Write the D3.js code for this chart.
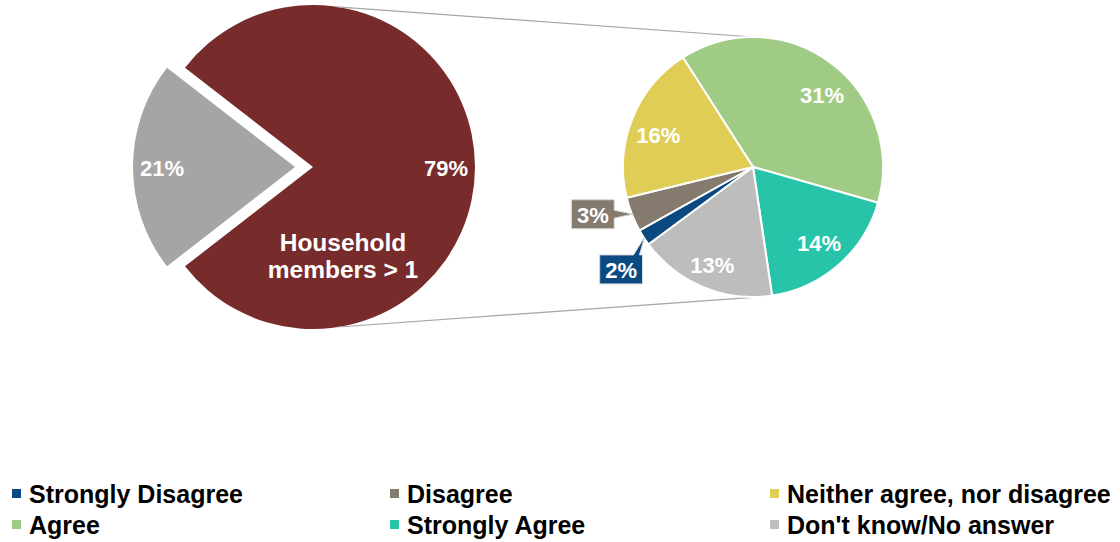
<!DOCTYPE html>
<html><head><meta charset="utf-8">
<script src="https://cdn.jsdelivr.net/npm/d3@7"></script>
<style>body{margin:0;background:#fff}svg{display:block;font-family:"Liberation Sans",Arial,sans-serif;font-weight:bold}</style>
</head><body><svg width="1120" height="542"></svg>
<script>
// ---- data ----
const mainCategories = ["Household members = 1", "Household members > 1"];
const mainValues = [21, 79];
const mainLabels = ["21%", "79%"];
const subCategories = ["Agree", "Strongly Agree", "Don't know/No answer", "Strongly Disagree", "Disagree", "Neither agree, nor disagree"];
const subValues = [30.4, 14.4, 13.6, 1.6, 3.4, 15.6];
const subLabels = ["31%", "14%", "13%", "2%", "3%", "16%"];
const legendOrder = ["Strongly Disagree", "Disagree", "Neither agree, nor disagree", "Agree", "Strongly Agree", "Don't know/No answer"];

const colors = {
  "Household members = 1": "#A5A5A5",
  "Household members > 1": "#772B2B",
  "Strongly Disagree": "#0B4A80",
  "Disagree": "#857A6E",
  "Neither agree, nor disagree": "#E0CD56",
  "Agree": "#A0CB84",
  "Strongly Agree": "#27C4A9",
  "Don't know/No answer": "#BDBDBD"
};

const svg = d3.select("svg");
const deg = Math.PI / 180;
const polar = (cx, cy, r, a) => [cx + r * Math.sin(a), cy - r * Math.cos(a)];

// ---- main pie ----
const L = {cx: 313, cy: 167, r: 162};
const mainSum = d3.sum(mainValues);
const mStart = 1.5 * Math.PI - (mainValues[0] / mainSum) * Math.PI;
const mainArcGen = d3.arc().innerRadius(0).outerRadius(L.r);
const mainPieData = d3.pie().sort(null).value(d => d.v).startAngle(mStart).endAngle(mStart + 2 * Math.PI)(mainValues.map((v, i) => ({v, i})));
const explode = 18;

const gL = svg.append("g").attr("transform", `translate(${L.cx},${L.cy})`);
mainPieData.forEach(d => {
  const mid = (d.startAngle + d.endAngle) / 2;
  const off = d.data.i === 0 ? explode : 0;
  const [ox, oy] = [off * Math.sin(mid), -off * Math.cos(mid)];
  const g = gL.append("g").attr("transform", `translate(${ox},${oy})`);
  g.append("path").attr("d", mainArcGen(d)).attr("fill", colors[mainCategories[d.data.i]]);
  const [lx, ly] = polar(0, 0, 133, mid);
  g.append("text").attr("x", lx).attr("y", ly).attr("dy", "0.42em").attr("text-anchor", "middle")
    .attr("fill", "#fff").style("font-size", "22px").text(mainLabels[d.data.i]);
  if (d.data.i === 1) {
    const t = g.append("text").attr("text-anchor", "middle").attr("fill", "#fff").style("font-size", "24.5px");
    t.append("tspan").attr("x", 30).attr("y", 84).text("Household");
    t.append("tspan").attr("x", 30).attr("y", 111).text("members > 1");
  }
});

// ---- secondary pie ----
const R = {cx: 753, cy: 167, r: 130};
const sStart = -32.6 * deg;
const subPieData = d3.pie().sort(null).value(d => d.v).startAngle(sStart).endAngle(sStart + 2 * Math.PI)(subValues.map((v, i) => ({v, i})));
const subArcGen = d3.arc().innerRadius(0).outerRadius(R.r);

// connector lines
const conn = [[polar(L.cx, L.cy, L.r, 8.5 * deg), polar(R.cx, R.cy, R.r, 0)],
              [polar(L.cx, L.cy, L.r, 171 * deg), polar(R.cx, R.cy, R.r, 175.6 * deg)]];
conn.forEach(([a, b]) => svg.append("line").attr("x1", a[0]).attr("y1", a[1]).attr("x2", b[0]).attr("y2", b[1])
  .attr("stroke", "#A6A6A6").attr("stroke-width", 1.2));

const gR = svg.append("g").attr("transform", `translate(${R.cx},${R.cy})`);
gR.selectAll("path").data(subPieData).join("path")
  .attr("d", subArcGen).attr("fill", d => colors[subCategories[d.data.i]])
  .attr("stroke", "#fff").attr("stroke-width", 2).attr("stroke-linejoin", "round");

const labelNudge = {0: 7, 5: -3};
const labelRadius = {2: 106};
const callouts = {3: -5, 4: 5};
subPieData.forEach(d => {
  const i = d.data.i;
  const mid = (d.startAngle + d.endAngle) / 2;
  if (callouts[i] === undefined) {
    const [lx, ly] = polar(0, 0, labelRadius[i] || 100, mid + (labelNudge[i] || 0) * deg);
    gR.append("text").attr("x", lx).attr("y", ly).attr("dy", "0.38em").attr("text-anchor", "middle")
      .attr("fill", "#fff").style("font-size", "22px").text(subLabels[i]);
  } else {
    const [bx, by] = polar(0, 0, 167, mid + callouts[i] * deg);
    const [tx, ty] = polar(0, 0, 129, mid);
    const tmp = gR.append("text").style("font-size", "22px").text(subLabels[i]);
    const w = tmp.node().getComputedTextLength() + 11; tmp.remove();
    const h = 29;
    const x0 = bx - w / 2, x1 = bx + w / 2, y0 = by - h / 2, y1 = by + h / 2;
    const exR = tx - x1, exT = y0 - ty;
    let p;
    if (exR >= exT) {
      const yc = Math.max(y0 + 4, Math.min(y1 - 4, ty));
      p = [[x0, y0], [x1, y0], [x1, yc - 4], [tx, ty], [x1, yc + 4], [x1, y1], [x0, y1]];
    } else {
      const xc = Math.max(x0 + 4, Math.min(x1 - 6, tx));
      p = [[x0, y0], [xc - 3, y0], [tx, ty], [xc + 3, y0], [x1, y0], [x1, y1], [x0, y1]];
    }
    gR.append("path").attr("d", "M" + p.map(q => q.join(",")).join("L") + "Z")
      .attr("fill", colors[subCategories[i]]).attr("stroke", "#D9D9D9").attr("stroke-width", 1);
    gR.append("text").attr("x", bx).attr("y", by).attr("dy", "0.38em").attr("text-anchor", "middle")
      .attr("fill", "#fff").style("font-size", "22px").text(subLabels[i]);
  }
});

// ---- legend ----
const colX = d3.scaleOrdinal().domain([0, 1, 2]).range([12, 390, 770]);
const rowY = d3.scaleOrdinal().domain([0, 1]).range([494, 525]);
const lg = svg.append("g").selectAll("g").data(legendOrder).join("g")
  .attr("transform", (d, i) => `translate(${colX(i % 3)},${rowY(Math.floor(i / 3))})`);
lg.append("rect").attr("x", 0).attr("y", -5).attr("width", 9).attr("height", 9).attr("fill", d => colors[d]);
lg.append("text").attr("x", 17).attr("dy", "0.36em").attr("fill", "#000").style("font-size", "25px").text(d => d);
</script></body></html>
